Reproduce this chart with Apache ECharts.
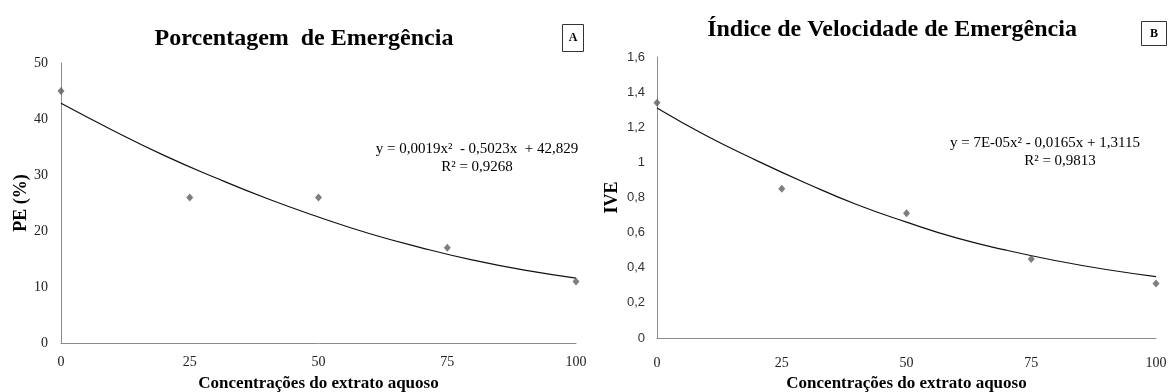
<!DOCTYPE html>
<html>
<head>
<meta charset="utf-8">
<script src="https://cdn.jsdelivr.net/npm/echarts@6/dist/echarts.min.js"></script>
<style>html,body{margin:0;padding:0;background:#fff}#c{width:1168px;height:392px}</style>
</head>
<body>
<div id="c"></div>
<script>
// Concentrations (x)
const concentrations = [0, 25, 50, 75, 100];
// Panel A: Porcentagem de Emergência (PE %)
const peValues = [45, 26, 26, 17, 11];
const trendX = [0, 10, 20, 30, 40, 50, 60, 70, 80, 90, 100];
const peTrend = [42.8, 38.0, 33.5, 29.5, 25.8, 22.5, 19.5, 17.0, 14.8, 13.0, 11.6];
// Panel B: Índice de Velocidade de Emergência (IVE)
const iveValues = [1.34, 0.85, 0.71, 0.45, 0.31];
const iveTrend = [1.31, 1.15, 1.01, 0.88, 0.76, 0.66, 0.57, 0.50, 0.44, 0.39, 0.35];
// Tick labels
const xTicks = [0, 25, 50, 75, 100];
const peTicks = [0, 10, 20, 30, 40, 50];
const iveTicks = [0, 0.2, 0.4, 0.6, 0.8, 1, 1.2, 1.4, 1.6];

const serif = '"Liberation Serif", "DejaVu Serif", serif';
const sans = '"Liberation Sans", "DejaVu Sans", sans-serif';
const axisGray = '#8c8c8c';

const pairs = (xs, ys) => xs.map((x, i) => [x, ys[i]]);

const chart = echarts.init(document.getElementById('c'));
chart.setOption({
  animation: false,
  backgroundColor: '#fff',
  title: [
    { text: 'Porcentagem  de Emergência', left: 299, top: 22, textAlign: 'center',
      textStyle: { fontFamily: serif, fontSize: 24, fontWeight: 'bold', color: '#000' } },
    { text: 'Índice de Velocidade de Emergência', left: 887, top: 13, textAlign: 'center',
      textStyle: { fontFamily: serif, fontSize: 24, fontWeight: 'bold', color: '#000' } }
  ],
  grid: [
    { left: 61, right: 592, top: 63, bottom: 49, containLabel: false, outerBoundsMode: 'none' },
    { left: 657, right: 12, top: 57, bottom: 54, containLabel: false, outerBoundsMode: 'none' }
  ],
  xAxis: [0, 1].map(i => ({
    type: 'value', gridIndex: i, min: 0, max: 100, interval: 25,
    name: 'Concentrações do extrato aquoso', nameLocation: 'middle', nameGap: i === 0 ? 32 : 31,
    nameTextStyle: { fontFamily: serif, fontSize: 17, fontWeight: 'bold', color: '#000' },
    axisLine: { show: true, lineStyle: { color: axisGray, width: 1 } },
    axisTick: { show: false },
    splitLine: { show: false },
    axisLabel: { fontFamily: serif, fontSize: 14, color: '#222', margin: i === 0 ? 12 : 18,
      customValues: xTicks }
  })),
  yAxis: [
    { type: 'value', gridIndex: 0, min: 0, max: 50, interval: 10,
      name: 'PE (%)', nameLocation: 'middle', nameGap: 31, nameRotate: 90,
      nameTextStyle: { fontFamily: serif, fontSize: 18, fontWeight: 'bold', color: '#000' },
      axisLine: { show: true, lineStyle: { color: axisGray, width: 1 } },
      axisTick: { show: false }, splitLine: { show: false },
      axisLabel: { fontFamily: serif, fontSize: 14, color: '#222', margin: 13,
        customValues: peTicks } },
    { type: 'value', gridIndex: 1, min: 0, max: 1.6, interval: 0.2,
      name: 'IVE', nameLocation: 'middle', nameGap: 36, nameRotate: 90,
      nameTextStyle: { fontFamily: serif, fontSize: 18, fontWeight: 'bold', color: '#000' },
      axisLine: { show: true, lineStyle: { color: axisGray, width: 1 } },
      axisTick: { show: false }, splitLine: { show: false },
      axisLabel: { fontFamily: sans, fontSize: 13, color: '#333', margin: 12,
        customValues: iveTicks,
        formatter: v => String(Math.round(v * 10) / 10).replace('.', ',') } }
  ],
  series: [
    { type: 'line', xAxisIndex: 0, yAxisIndex: 0, data: pairs(trendX, peTrend), smooth: true,
      showSymbol: false, lineStyle: { color: '#111', width: 1.2 }, z: 2 },
    { type: 'scatter', xAxisIndex: 0, yAxisIndex: 0, data: pairs(concentrations, peValues),
      symbol: 'diamond', symbolSize: [7, 8], itemStyle: { color: '#5e5e5e' }, z: 3 },
    { type: 'line', xAxisIndex: 1, yAxisIndex: 1, data: pairs(trendX, iveTrend), smooth: true,
      showSymbol: false, lineStyle: { color: '#111', width: 1.2 }, z: 2 },
    { type: 'scatter', xAxisIndex: 1, yAxisIndex: 1, data: pairs(concentrations, iveValues),
      symbol: 'diamond', symbolSize: [7, 8], itemStyle: { color: '#5e5e5e' }, z: 3 }
  ],
  graphic: [
    { type: 'rect', shape: { x: 562.5, y: 24.5, width: 21, height: 27 },
      style: { fill: '#fff', stroke: '#333', lineWidth: 1 } },
    { type: 'text', x: 573, y: 38, style: { text: 'A', fontFamily: serif, fontSize: 12, fontWeight: 'bold',
      fill: '#000', align: 'center', verticalAlign: 'middle' } },
    { type: 'rect', shape: { x: 1141.5, y: 21.5, width: 25, height: 24 },
      style: { fill: '#fff', stroke: '#333', lineWidth: 1 } },
    { type: 'text', x: 1154, y: 34, style: { text: 'B', fontFamily: serif, fontSize: 12, fontWeight: 'bold',
      fill: '#000', align: 'center', verticalAlign: 'middle' } },
    { type: 'text', x: 477, y: 149, style: { text: 'y = 0,0019x²  - 0,5023x  + 42,829', fontFamily: serif,
      fontSize: 15, fill: '#000', align: 'center', verticalAlign: 'middle' } },
    { type: 'text', x: 477, y: 167, style: { text: 'R² = 0,9268', fontFamily: serif,
      fontSize: 15, fill: '#000', align: 'center', verticalAlign: 'middle' } },
    { type: 'text', x: 1045, y: 143, style: { text: 'y = 7E-05x² - 0,0165x + 1,3115', fontFamily: serif,
      fontSize: 15, fill: '#000', align: 'center', verticalAlign: 'middle' } },
    { type: 'text', x: 1060, y: 161, style: { text: 'R² = 0,9813', fontFamily: serif,
      fontSize: 15, fill: '#000', align: 'center', verticalAlign: 'middle' } }
  ]
});
</script>
</body>
</html>
